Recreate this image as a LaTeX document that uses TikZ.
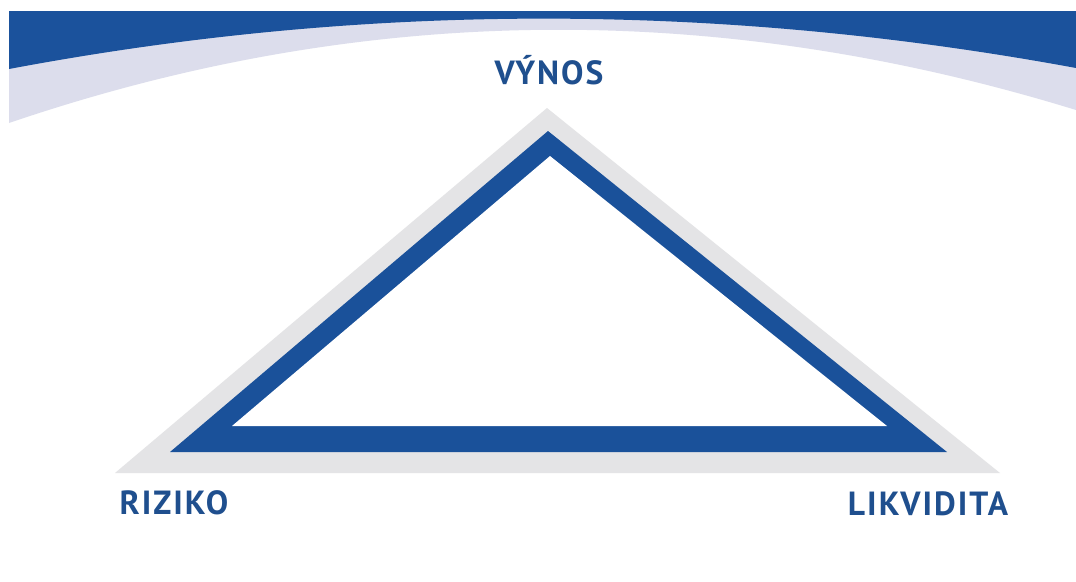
\documentclass[tikz,border=0pt]{standalone}
\usepackage{fontspec}
\setmainfont{PT Sans}
\definecolor{bandblue}{HTML}{1B529C}
\definecolor{lavender}{HTML}{DCDDEC}
\definecolor{shadowgrey}{HTML}{E4E4E6}
\definecolor{triblue}{HTML}{1A519A}
\definecolor{labelblue}{HTML}{1F4F8E}
\tikzset{lbl/.style={font=\fontsize{33.5}{34}\selectfont\bfseries\addfontfeatures{LetterSpace=6}, text=labelblue, inner sep=0pt, anchor=base}}
\begin{document}
\begin{tikzpicture}[x=1pt,y=-1pt]
\useasboundingbox (0,0) rectangle (1076,581);
\fill[white] (0,0) rectangle (1076,581);
% lavender band
\fill[lavender] (9,11) -- (1076,11) -- (1076,110) .. controls (715,-1) and (361,3) .. (9,123) -- cycle;
% blue band
\fill[bandblue] (9,11) -- (1076,11) -- (1076,68) .. controls (718,2) and (365,2) .. (9,69) -- cycle;
% triangle
\coordinate (gA) at (547,108);
\coordinate (gL) at (115,473);
\coordinate (gR) at (1000,473);
\coordinate (bA) at (548,131);
\coordinate (bL) at (170,452);
\coordinate (bR) at (947,452);
\coordinate (wA) at (550,156);
\coordinate (wL) at (232,426);
\coordinate (wR) at (887,426);
\fill[shadowgrey] (gA) -- (gL) -- (gR) -- cycle;
\fill[triblue] (bA) -- (bL) -- (bR) -- cycle;
\fill[white] (wA) -- (wL) -- (wR) -- cycle;
% labels
\node[lbl] (vynos) at (549,84) {VÝNOS};
\node[lbl] (riziko) at (174,514) {RIZIKO};
\node[lbl] (likvidita) at (928,515) {LIKVIDITA};
\end{tikzpicture}
\end{document}
